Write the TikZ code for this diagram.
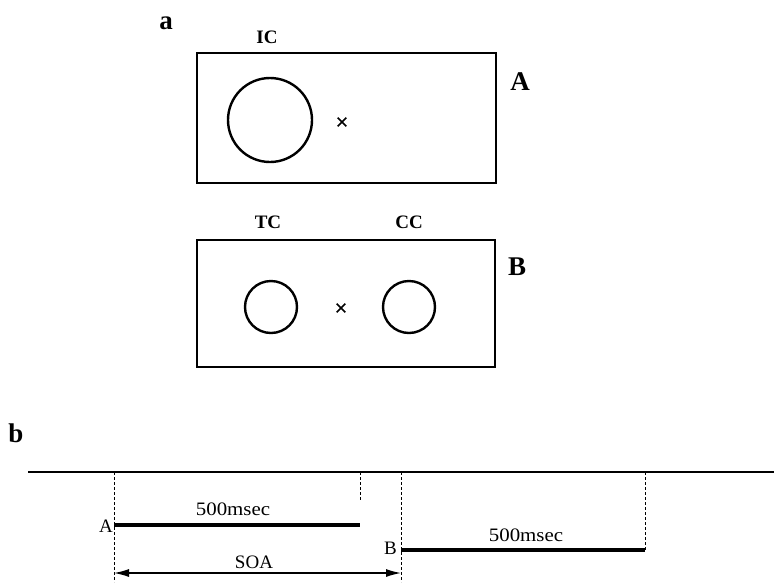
\documentclass[tikz,border=0pt]{standalone}
\usepackage{fontspec}
\setmainfont{Liberation Serif}
\usetikzlibrary{arrows.meta,shapes.misc}
\tikzset{
  panelbox/.style={draw, line width=1.7pt, inner sep=0pt},
  ring/.style={draw, circle, line width=2.4pt, inner sep=0pt},
  lbl/.style={inner sep=0pt, font=\fontsize{19}{19}\selectfont\bfseries},
  big/.style={inner sep=0pt, font=\fontsize{27}{27}\selectfont\bfseries},
  crossmark/.style={draw, cross out, line width=1.6pt, minimum size=7pt, inner sep=0pt},
  guide/.style={line width=0.7pt, dash pattern=on 2.5pt off 2.5pt},
  bar/.style={line width=4pt},
  small/.style={inner sep=0pt, font=\fontsize{19}{19}\selectfont}
}
\begin{document}
\begin{tikzpicture}[x=1pt,y=-1pt]
\useasboundingbox (0,0) rectangle (774,582);
% panel a
\node[big] (la) at (166,23) {a};
\node[panelbox, minimum width=299pt, minimum height=130pt] (boxA) at (346.5,118) {};
\node[ring, minimum size=84pt] (ic) at (270,120) {};
\node[crossmark] (xa) at (342,122) {};
\node[lbl] (tic) at (267,37) {IC};
\node[big] (tA) at (520,82) {A};
% panel B
\node[panelbox, minimum width=298pt, minimum height=127pt] (boxB) at (346,303.5) {};
\node[ring, minimum size=52pt] (tc) at (271,307) {};
\node[ring, minimum size=52pt] (cc) at (409,307) {};
\node[crossmark] (xb) at (341,308) {};
\node[lbl] (ttc) at (268,222) {TC};
\node[lbl] (tcc) at (409,222) {CC};
\node[big] (tB) at (517,267) {B};
% panel b
\node[big] (lb) at (16,433) {b};
\coordinate (t0) at (28,472);
\coordinate (t1) at (774,472);
\draw[line width=2.2pt] (t0) -- (t1);
\coordinate (d1a) at (114,472); \coordinate (d1b) at (114,582);
\coordinate (d2a) at (360,472); \coordinate (d2b) at (360,500);
\coordinate (d3a) at (401,472); \coordinate (d3b) at (401,582);
\coordinate (d4a) at (645,472); \coordinate (d4b) at (645,551);
\draw[guide] (d1a) -- (d1b);
\draw[guide] (d2a) -- (d2b);
\draw[guide] (d3a) -- (d3b);
\draw[guide] (d4a) -- (d4b);
\coordinate (a0) at (114,525); \coordinate (a1) at (360,525);
\draw[bar] (a0) -- (a1);
\node[small, anchor=east] (tAb) at (113,526) {A};
\node[small, xscale=1.1] (ma) at (233,509) {500msec};
\coordinate (b0) at (401,550); \coordinate (b1) at (645,550);
\draw[bar] (b0) -- (b1);
\node[small, anchor=east] (tBb) at (397,548) {B};
\node[small, xscale=1.1] (mb) at (526,535) {500msec};
\coordinate (s0) at (114,573); \coordinate (s1) at (401,573);
\draw[line width=1.3pt, {Latex[length=15pt,width=8pt]}-{Latex[length=15pt,width=8pt]}] (s0) -- (s1);
\node[small] (soa) at (254,562) {SOA};
\end{tikzpicture}
\end{document}
